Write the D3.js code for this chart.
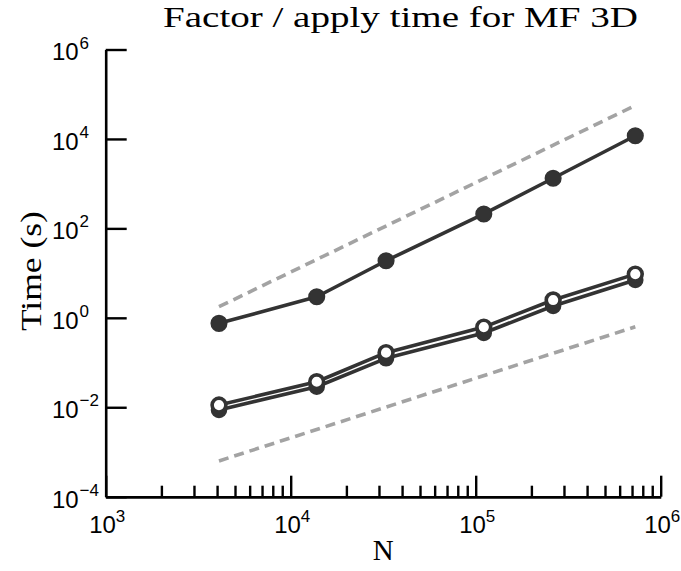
<!DOCTYPE html>
<html>
<head>
<meta charset="utf-8">
<script src="https://cdn.jsdelivr.net/npm/d3@7"></script>
<style>
  html, body { margin: 0; padding: 0; background: #fff; }
  svg { display: block; }
</style>
</head>
<body>
<svg id="chart" width="681" height="571"></svg>
<script>
// Problem sizes (number of unknowns)
const sizes = [4096, 13824, 32768, 110592, 262144, 729000];
// Factorization time (s)
const factorTime = [0.753, 2.96, 18.9, 210, 1320, 11800];
// Apply time, first variant (filled markers)
const applyTimeFilled = [0.0087, 0.0288, 0.124, 0.457, 1.84, 7.0];
// Apply time, second variant (open markers)
const applyTimeOpen = [0.0112, 0.0372, 0.166, 0.62, 2.5, 9.5];
// Reference scaling guides: O(N^2) and O(N^{4/3})
const guideN = [4096, 729000];
const guideQuadratic = [1.77, 56000];
const guideFourThirds = [0.00063, 0.63];
// Axis tick exponents
const xTickExponents = [3, 4, 5, 6];
const yTickExponents = [-4, -2, 0, 2, 4, 6];
// Text
const titleText = "Factor / apply time for MF 3D";
const xLabelText = "N";
const yLabelText = "Time (s)";

const svg = d3.select("#chart");
const dark = "#333333";
const guideGrey = "#a3a3a3";
const sansFont = "'Liberation Sans', Arial, Helvetica, sans-serif";
const serifFont = "'Liberation Serif', 'Times New Roman', serif";

const plot = { left: 105.7, right: 660.7, top: 49.5, bottom: 496.7 };

const x = d3.scaleLog().domain([1e3, 1e6]).range([plot.left, plot.right]);
const y = d3.scaleLog().domain([1e-4, 1e6]).range([plot.bottom, plot.top]);

// ---- axes ----
const majorX = xTickExponents.map(e => Math.pow(10, e));
const minorX = [];
for (let e = 3; e < 6; e++) for (let m = 2; m <= 9; m++) minorX.push(m * Math.pow(10, e));
const majorY = yTickExponents.map(e => Math.pow(10, e));

function styleAxis(g) {
  g.selectAll("path.domain").attr("stroke", "#000").attr("stroke-width", 2.6);
  g.selectAll(".tick line").attr("stroke", "#000").attr("stroke-width", 2.4);
  g.selectAll(".tick text").remove();
}

svg.append("g")
  .attr("transform", `translate(0,${plot.bottom})`)
  .call(d3.axisBottom(x).tickValues(minorX).tickSizeInner(-11).tickSizeOuter(0).tickFormat(""))
  .call(styleAxis);

svg.append("g")
  .attr("transform", `translate(0,${plot.bottom})`)
  .call(d3.axisBottom(x).tickValues(majorX).tickSizeInner(-21).tickSizeOuter(0).tickFormat(""))
  .call(styleAxis);

svg.append("g")
  .attr("transform", `translate(${plot.left},0)`)
  .call(d3.axisLeft(y).tickValues(majorY).tickSizeInner(-21).tickSizeOuter(0).tickFormat(""))
  .call(styleAxis);

// power-of-ten tick labels
function expText(e) { return e < 0 ? "\u2212" + Math.abs(e) : String(e); }

const xLabels = svg.append("g").attr("font-family", sansFont).attr("fill", "#000");
xTickExponents.forEach(e => {
  const tx = x(Math.pow(10, e));
  xLabels.append("text").attr("x", tx - 16.5).attr("y", plot.bottom + 36.5)
    .attr("font-size", 24).text("10");
  xLabels.append("text").attr("x", tx + 10).attr("y", plot.bottom + 25.5)
    .attr("font-size", 17).text(expText(e));
});

const yLabels = svg.append("g").attr("font-family", sansFont).attr("fill", "#000");
yTickExponents.forEach(e => {
  const ty = y(Math.pow(10, e));
  yLabels.append("text").attr("x", 52).attr("y", ty + 10.8)
    .attr("font-size", 24).text("10");
  yLabels.append("text").attr("x", 79.5).attr("y", ty - 1)
    .attr("font-size", 17).text(expText(e));
});

// ---- titles ----
svg.append("text")
  .attr("x", 163).attr("y", 26.5)
  .attr("font-family", serifFont).attr("font-size", 29)
  .attr("textLength", 475).attr("lengthAdjust", "spacingAndGlyphs")
  .attr("fill", "#000").text(titleText);

svg.append("text")
  .attr("x", (plot.left + plot.right) / 2).attr("y", 560)
  .attr("text-anchor", "middle")
  .attr("font-family", serifFont).attr("font-size", 29)
  .attr("fill", "#000").text(xLabelText);

svg.append("text")
  .attr("transform", `translate(41,${(plot.top + plot.bottom) / 2 - 2}) rotate(-90)`)
  .attr("text-anchor", "middle")
  .attr("font-family", serifFont).attr("font-size", 29)
  .attr("textLength", 120).attr("lengthAdjust", "spacingAndGlyphs")
  .attr("fill", "#000").text(yLabelText);

// ---- data ----
const line = d3.line().x(d => x(d[0])).y(d => y(d[1]));
const pairs = (xs, ys) => xs.map((v, i) => [v, ys[i]]);

// scaling guides
[guideQuadratic, guideFourThirds].forEach(g => {
  svg.append("path")
    .attr("d", line(pairs(guideN, g)))
    .attr("fill", "none").attr("stroke", guideGrey)
    .attr("stroke-width", 3.6).attr("stroke-dasharray", "10,6");
});

function drawSeries(values, markerFill, r, strokeW) {
  const pts = pairs(sizes, values);
  svg.append("path")
    .attr("d", line(pts))
    .attr("fill", "none").attr("stroke", dark)
    .attr("stroke-width", 3.6).attr("stroke-linejoin", "round");
  svg.append("g").selectAll("circle").data(pts).join("circle")
    .attr("cx", d => x(d[0])).attr("cy", d => y(d[1])).attr("r", r)
    .attr("fill", markerFill).attr("stroke", dark).attr("stroke-width", strokeW);
}

drawSeries(applyTimeFilled, dark, 7.5, 1.5);
drawSeries(applyTimeOpen, "#fff", 6.9, 3.6);
drawSeries(factorTime, dark, 7.8, 1.5);
</script>
</body>
</html>
